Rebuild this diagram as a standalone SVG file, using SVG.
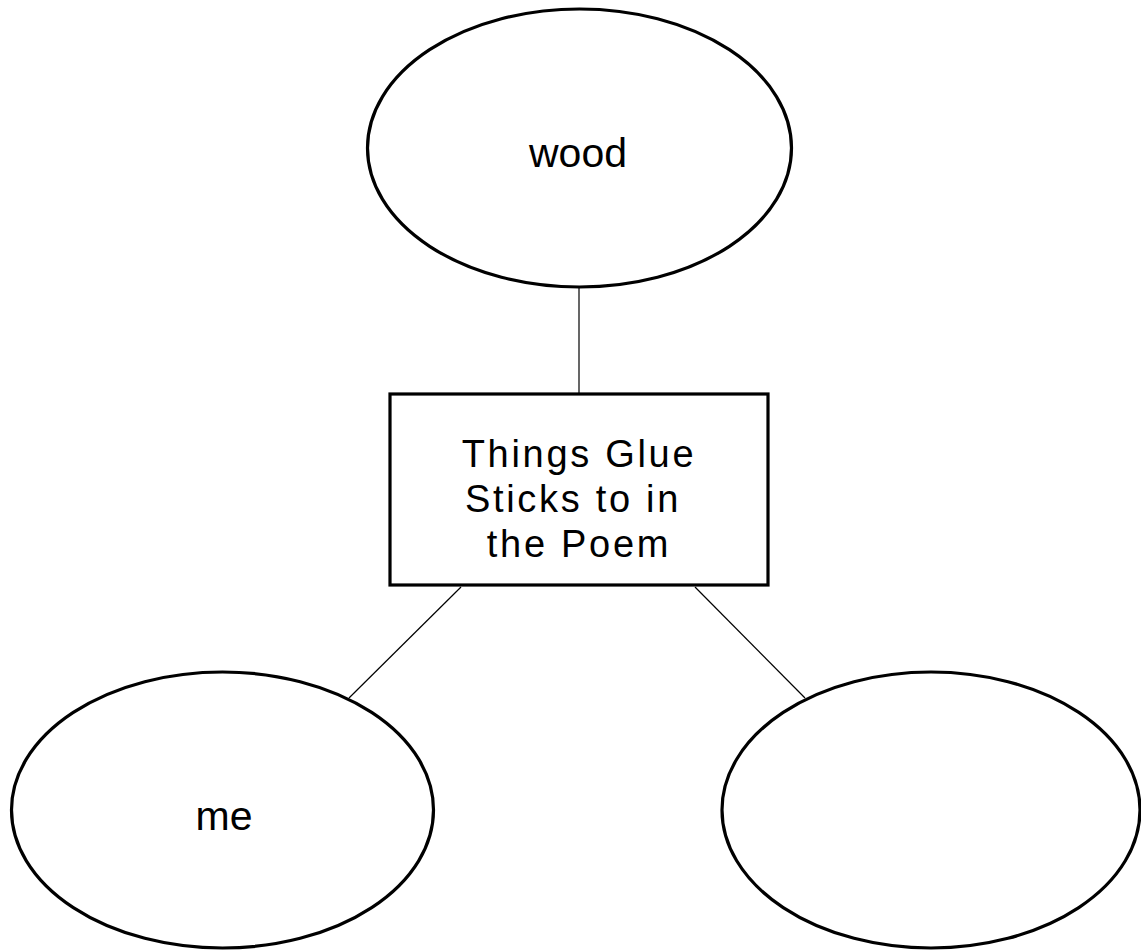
<svg xmlns="http://www.w3.org/2000/svg" width="1141" height="951" viewBox="0 0 1141 951">
<style>
.shape{fill:#fff;stroke:#000;stroke-width:3.2}
.conn{stroke:#000;stroke-width:1.2;fill:none}
.lbl{font-family:"Liberation Sans",Arial,sans-serif;fill:#000;text-anchor:middle}
.big{font-size:41px}
.box{font-size:38px;letter-spacing:2.7px}
</style>
<rect width="1141" height="951" fill="#fff"/>
<g id="connectors">
<line class="conn" x1="579" y1="288" x2="579" y2="394"/>
<line class="conn" x1="461" y1="587" x2="349" y2="698"/>
<line class="conn" x1="695" y1="587" x2="805" y2="698"/>
</g>
<g id="node-wood">
<ellipse class="shape" cx="579.5" cy="148" rx="212" ry="139"/>
<text class="lbl big" x="578" y="167">wood</text>
</g>
<g id="node-center">
<rect class="shape" x="390" y="394" width="378" height="191"/>
<text class="lbl box" x="579" y="467">Things Glue</text>
<text class="lbl box" x="573" y="512">Sticks to in</text>
<text class="lbl box" x="579" y="557">the Poem</text>
</g>
<g id="node-me">
<ellipse class="shape" cx="222.5" cy="810" rx="211" ry="138"/>
<text class="lbl big" x="224" y="830">me</text>
</g>
<g id="node-empty">
<ellipse class="shape" cx="931" cy="810" rx="209" ry="138"/>
</g>
</svg>
